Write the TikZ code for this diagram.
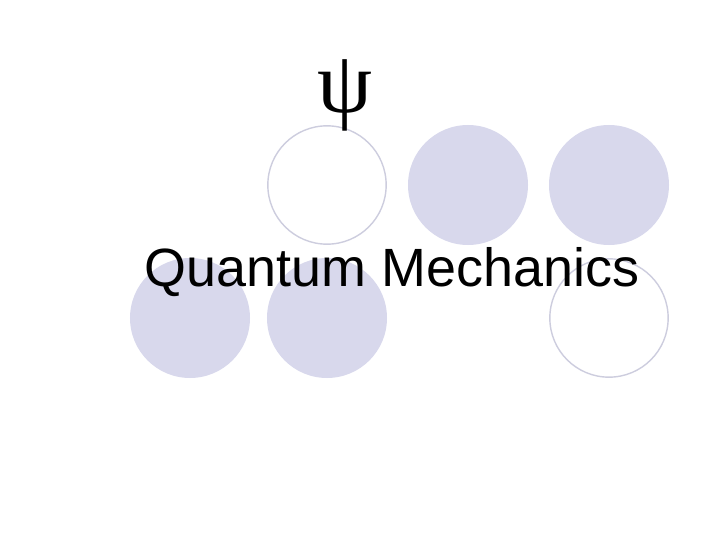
\documentclass[tikz,border=0pt]{standalone}
\usepackage{fontspec}
\setmainfont{Liberation Sans}
\newfontfamily\greekfont{Liberation Serif}
\definecolor{lavfill}{RGB}{216,216,236}
\definecolor{lavline}{RGB}{205,205,222}
\begin{document}
\begin{tikzpicture}[x=0.03cm, y=-0.03cm,
    filledball/.style={circle, fill=lavfill, minimum size=3.6cm, inner sep=0pt},
    openball/.style={circle, draw=lavline, line width=1.2pt, fill=white, minimum size=3.55cm, inner sep=0pt}]
  \useasboundingbox (0,0) rectangle (720,540);
  \node[openball] (c1) at (327,185) {};
  \node[filledball] (c2) at (468,185) {};
  \node[filledball] (c3) at (609,185) {};
  \node[filledball] (c4) at (190,318) {};
  \node[filledball] (c5) at (327,318) {};
  \node[openball] (c6) at (609,318) {};
  \node (psi) at (345,95) {\greekfont\fontsize{75}{80}\selectfont ψ};
  \node[anchor=base] (title) at (392,287) {\fontsize{46}{54}\selectfont Quantum Mechanics};
\end{tikzpicture}
\end{document}
